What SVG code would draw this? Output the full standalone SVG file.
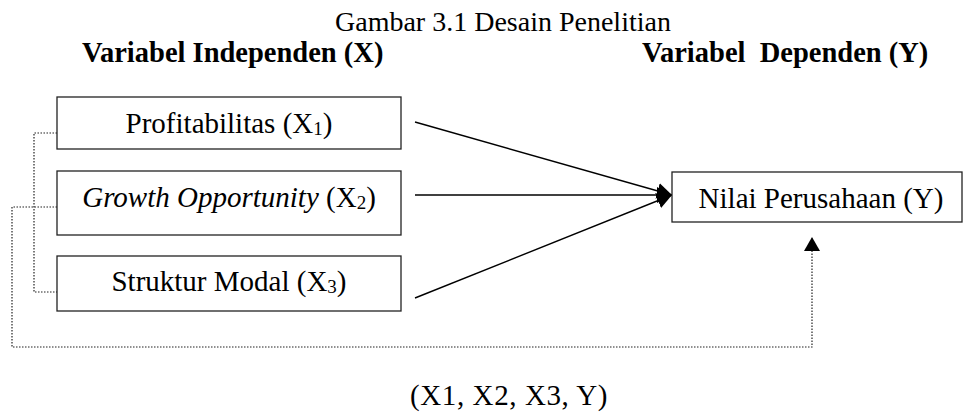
<svg xmlns="http://www.w3.org/2000/svg" width="964" height="414" viewBox="0 0 964 414">
  <style>
    .t { font-family: "Liberation Serif", "Times New Roman", serif; fill: #000; }
    .title { font-size: 28px; }
    .head { font-size: 28.5px; font-weight: bold; white-space: pre; }
    .lbl { font-size: 29px; }
    .sub { font-size: 19px; }
    .box { fill: #fff; stroke: #222; stroke-width: 1.3; }
    .solid { stroke: #000; stroke-width: 1.4; fill: none; }
    .dot { stroke: #222; stroke-width: 1.2; fill: none; stroke-dasharray: 1.5 1.5; }
  </style>
  <defs>
    <marker id="head" viewBox="0 0 15 16" refX="15" refY="8" markerWidth="15" markerHeight="16" markerUnits="userSpaceOnUse" orient="auto">
      <path d="M0,0 L15,8 L0,16 Z" fill="#000"/>
    </marker>
    <marker id="headSmall" viewBox="0 0 14 16" refX="14" refY="8" markerWidth="14" markerHeight="16" markerUnits="userSpaceOnUse" orient="auto">
      <path d="M0,0 L14,8 L0,16 Z" fill="#000"/>
    </marker>
  </defs>

  <!-- headings -->
  <text class="t title" x="335" y="31">Gambar 3.1 Desain Penelitian</text>
  <text class="t head" x="82" y="62">Variabel Independen (X)</text>
  <text class="t head" x="642" y="62" font-size="29">Variabel  Dependen (Y)</text>

  <!-- connectors -->
  <g id="connectors">
    <line class="solid" x1="415" y1="122" x2="672" y2="195" marker-end="url(#head)"/>
    <line class="solid" x1="415" y1="195" x2="672" y2="195" marker-end="url(#head)"/>
    <line class="solid" x1="415" y1="298" x2="672" y2="195" marker-end="url(#head)"/>
    <path class="dot" d="M57,133 H34 V292 H57"/>
    <path class="dot" d="M57,207 H12 V347 H812 V237" marker-end="url(#headSmall)"/>
  </g>

  <!-- independent variables -->
  <g id="x1">
    <rect class="box" x="57" y="97" width="344" height="52"/>
    <text class="t lbl" x="229" y="133" text-anchor="middle">Profitabilitas (X<tspan class="sub" dy="2">1</tspan><tspan dy="-2">)</tspan></text>
  </g>
  <g id="x2">
    <rect class="box" x="57" y="171" width="344" height="64"/>
    <text class="t lbl" x="229" y="207" text-anchor="middle"><tspan font-style="italic">Growth Opportunity</tspan> (X<tspan class="sub" dy="2">2</tspan><tspan dy="-2">)</tspan></text>
  </g>
  <g id="x3">
    <rect class="box" x="57" y="256" width="344" height="55"/>
    <text class="t lbl" x="229" y="291" text-anchor="middle">Struktur Modal (X<tspan class="sub" dy="2">3</tspan><tspan dy="-2">)</tspan></text>
  </g>

  <!-- dependent variable -->
  <g id="y">
    <rect class="box" x="672" y="172" width="290" height="50"/>
    <text class="t lbl" x="821" y="208" text-anchor="middle">Nilai Perusahaan (Y)</text>
  </g>

  <text class="t" x="410" y="405" font-size="29" letter-spacing="0.6">(X1, X2, X3, Y)</text>
</svg>
